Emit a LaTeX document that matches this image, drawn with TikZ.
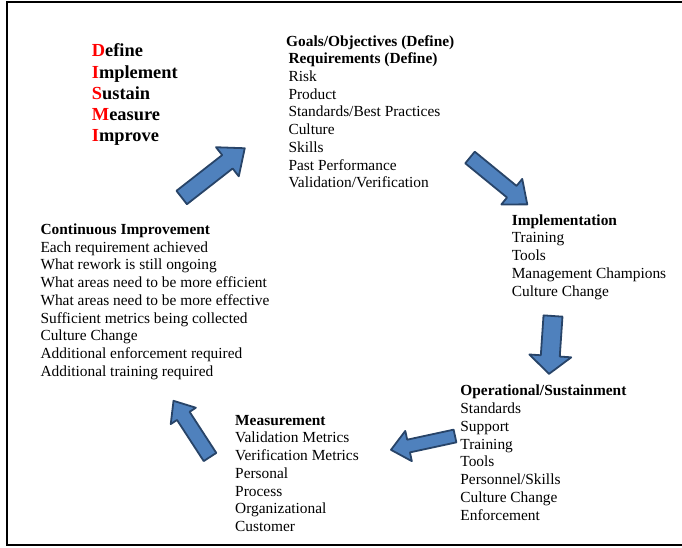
\documentclass[tikz,border=0pt]{standalone}
\usepackage{fontspec}
\setmainfont{Liberation Serif}
\usetikzlibrary{positioning}

\definecolor{arrowfill}{RGB}{79,129,189}
\definecolor{arrowline}{RGB}{40,68,104}

% block arrow: tail, angle, length, half shaft, half head, head length
\newcommand{\cyclearrow}[6]{%
  \begin{scope}[shift={#1}, rotate=#2]
    \draw[bluearrow] (0,-#4) -- ({#3-#6},-#4) -- ({#3-#6},-#5) -- (#3,0)
      -- ({#3-#6},#5) -- ({#3-#6},#4) -- (0,#4) -- cycle;
  \end{scope}}

\begin{document}
\begin{tikzpicture}[x=1pt, y=-1pt,
    stage/.style={anchor=north west, inner sep=0pt, align=left,
      font=\fontsize{15.4}{17.75}\selectfont},
    dismi/.style={anchor=north west, inner sep=0pt, align=left,
      font=\fontsize{18.4}{21.25}\selectfont\bfseries},
    bluearrow/.style={fill=arrowfill, draw=arrowline, line width=1.8pt, line join=round}]
  \useasboundingbox (0,0) rectangle (682,548);

  % frame
  \draw[line width=2pt] (682,2) -- (7,2) -- (7,544.5) -- (682,544.5);

  % the five steps
  \node[dismi] (dismi) at (91.7,41.8) {\strut\textcolor{red}{D}efine\\
    \textcolor{red}{I}mplement\\
    \textcolor{red}{S}ustain\\
    \textcolor{red}{M}easure\\
    \textcolor{red}{I}mprove};

  \node[stage] (goals) at (286,34.3) {\strut\textbf{Goals/Objectives (Define)}};
  \node[stage] (require) at (288.3,50.9) {\strut\textbf{Requirements (Define)}\\
    Risk\\
    Product\\
    Standards/Best Practices\\
    Culture\\
    Skills\\
    Past Performance\\
    Validation/Verification};

  \node[stage] (implement) at (511.6,212.4) {\strut\textbf{Implementation}\\
    Training\\
    Tools\\
    Management Champions\\
    Culture Change};

  \node[stage] (operate) at (460.2,383.2) {\strut\textbf{Operational/Sustainment}\\
    Standards\\
    Support\\
    Training\\
    Tools\\
    Personnel/Skills\\
    Culture Change\\
    Enforcement};

  \node[stage] (measure) at (235,412.4) {\strut\textbf{Measurement}\\
    Validation Metrics\\
    Verification Metrics\\
    Personal\\
    Process\\
    Organizational\\
    Customer};

  \node[stage] (improve) at (40.3,221.8) {\strut\textbf{Continuous Improvement}\\
    Each requirement achieved\\
    What rework is still ongoing\\
    What areas need to be more efficient\\
    What areas need to be more effective\\
    Sufficient metrics being collected\\
    Culture Change\\
    Additional enforcement required\\
    Additional training required};

  % arrows round the cycle
  \cyclearrow{(181.7,197.5)}{38}{80}{8.5}{18.5}{22}
  \cyclearrow{(470,157.5)}{-39.3}{74}{7.5}{16.5}{20}
  \cyclearrow{(553,316)}{-93.9}{58}{9.5}{21}{18}
  \cyclearrow{(455,436)}{192.2}{65.5}{6.5}{15.5}{18}
  \cyclearrow{(210,457)}{123}{67}{7.5}{15}{18}
\end{tikzpicture}
\end{document}
